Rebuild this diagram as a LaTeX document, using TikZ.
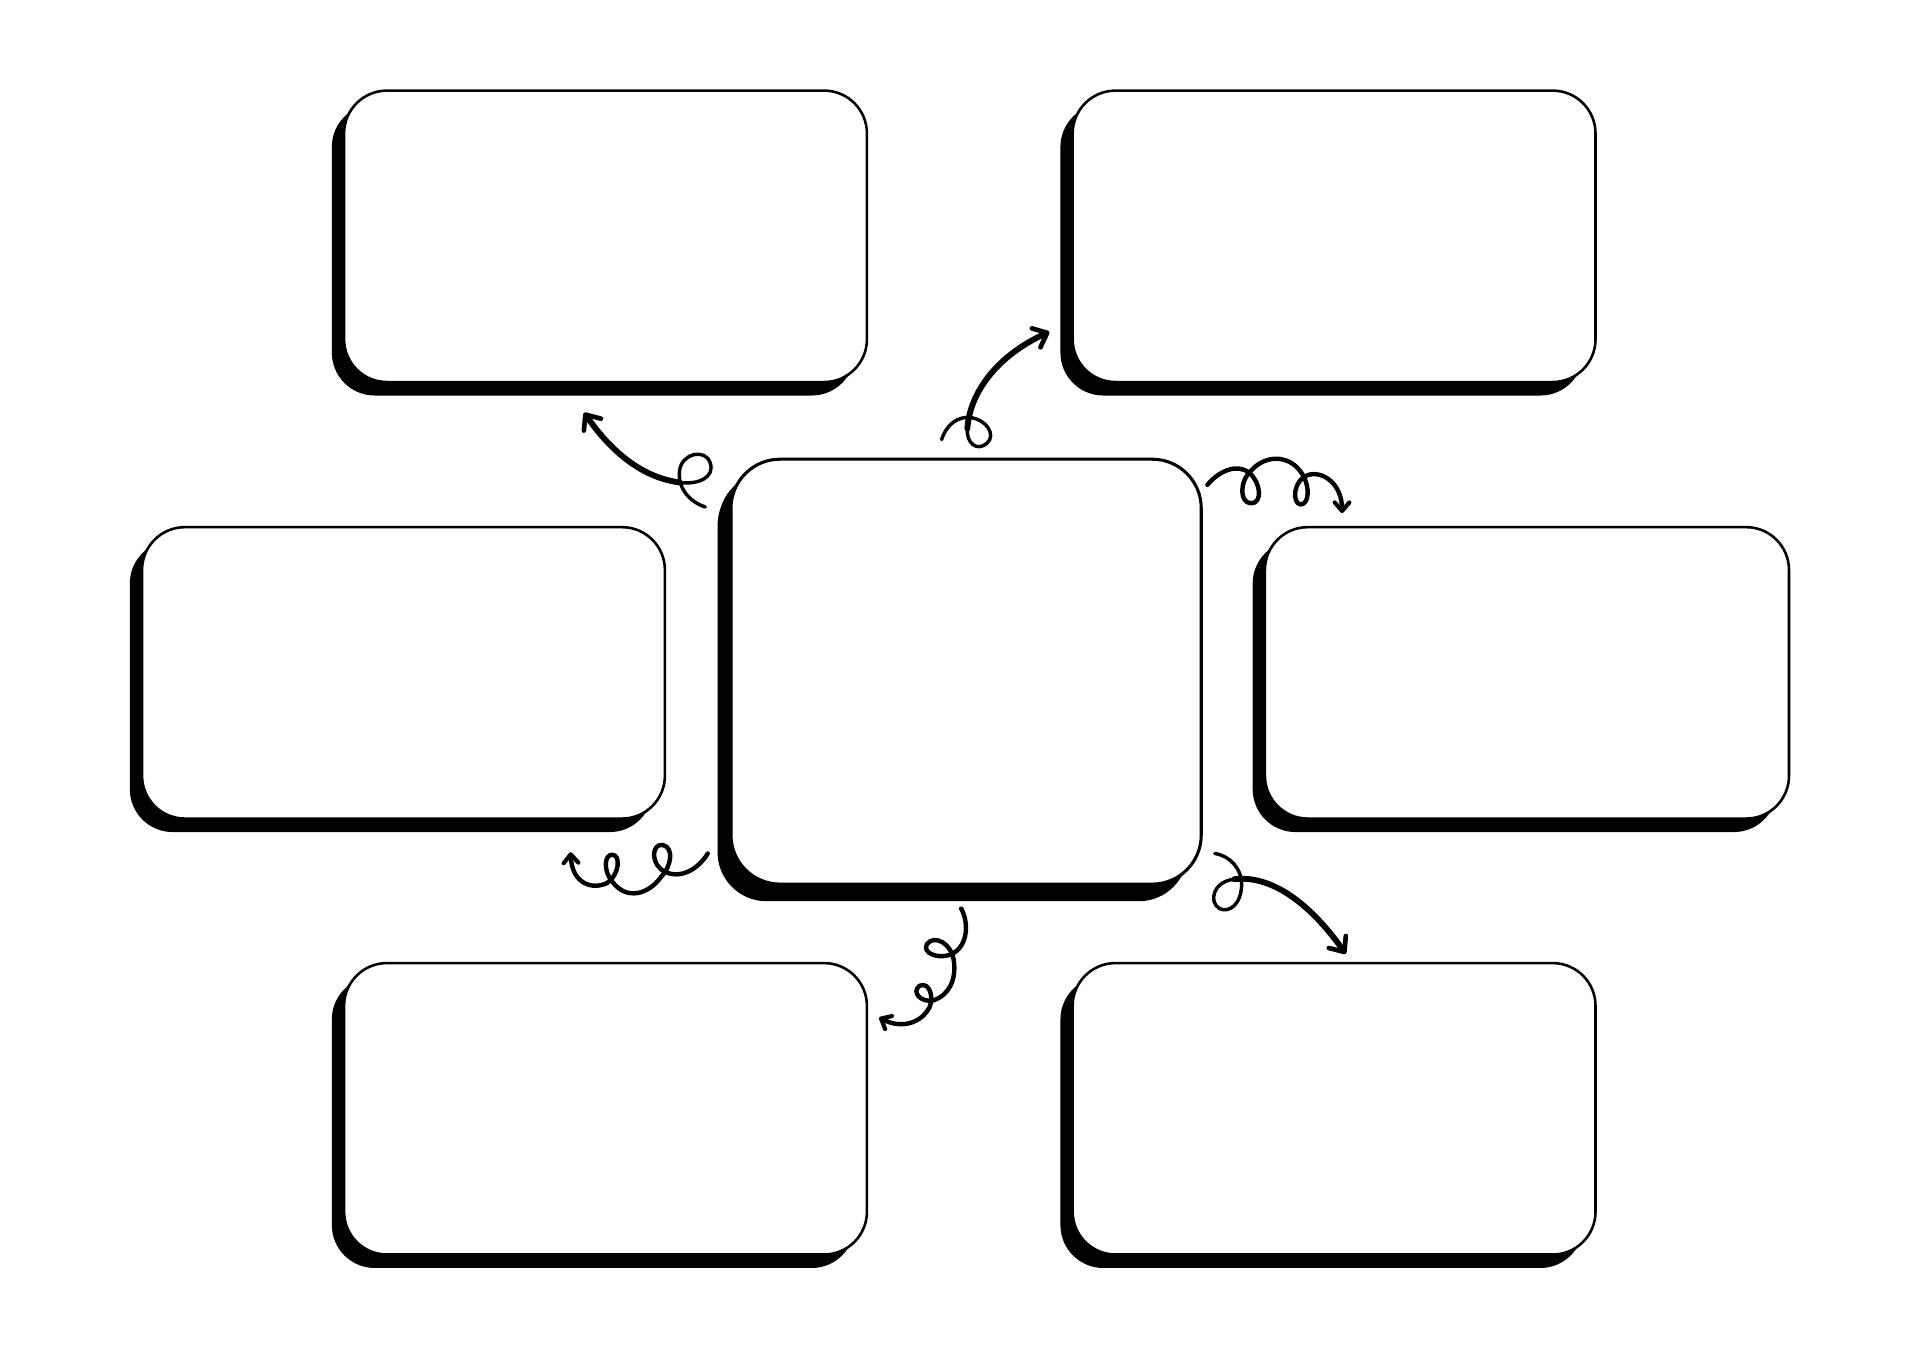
\documentclass[tikz,border=0pt]{standalone}
\usetikzlibrary{shadows,arrows.meta}
\begin{document}
\begin{tikzpicture}[x=1pt,y=-1pt,
  box/.style={draw=black,fill=white,line width=2.1pt,rounded corners=35pt,
    inner sep=0pt,outer sep=0pt,minimum width=427pt,minimum height=238pt,
    general shadow={fill=black,shadow xshift=-10pt,shadow yshift=-11pt}},
  hubbox/.style={box,rounded corners=40pt,line width=2.5pt,minimum width=384pt,minimum height=347pt,
    general shadow={fill=black,shadow xshift=-11pt,shadow yshift=-14pt}},
  loopline/.style={line width=2.8pt,line cap=round,line join=round},
  mainline/.style={line width=4.8pt,line cap=round,line join=round},
  curlline/.style={line width=3.6pt,line cap=round,line join=round},
  bigtip/.style={-{Straight Barb[length=10pt,width=17pt,line width=3.8pt,round]}},
  smalltip/.style={-{Straight Barb[length=7pt,width=12pt,line width=3.4pt,round]}}]
\useasboundingbox (0,0) rectangle (1568,1109);
\fill[white] (0,0) rectangle (1568,1109);

% boxes
\node[box] (tl) at (494.5,193) {};
\node[box] (tr) at (1089.5,193) {};
\node[box] (ml) at (329.5,549.5) {};
\node[box,minimum width=428pt] (mr) at (1247,549.5) {};
\node[box] (bl) at (494.5,905.5) {};
\node[box] (br) at (1089.5,905.5) {};
\node[hubbox] (hub) at (789,548.5) {};

% connector ends
\coordinate (a1s) at (576,414);
\coordinate (a1j) at (555,394);
\coordinate (a1e) at (477,337);
\coordinate (a2s) at (769,359);
\coordinate (a2j) at (790,350);
\coordinate (a2e) at (857,271);
\coordinate (a3s) at (986,396);
\coordinate (a3e) at (1096,419);
\coordinate (a4s) at (578,697);
\coordinate (a4e) at (466,696);
\coordinate (a5s) at (785,742);
\coordinate (a5e) at (718,831);
\coordinate (a6s) at (992,697);
\coordinate (a6j) at (1008,718);
\coordinate (a6e) at (1099,779);

% arrow 1: hub -> top left
\draw[loopline] (a1s) .. controls (563,410) and (553,398) .. (555,384)
  .. controls (557,370) and (576,366) .. (580,378)
  .. controls (584,390) and (570,396) .. (a1j);
\draw[mainline,bigtip] (a1j) .. controls (525,390) and (500,370) .. (a1e);

% arrow 2: hub -> top right
\draw[loopline] (a2s) .. controls (773,346) and (783,340) .. (792,341)
  .. controls (805,342) and (814,355) .. (806,362)
  .. controls (798,369) and (789,362) .. (a2j);
\draw[mainline,bigtip] (a2j) .. controls (792,320) and (815,290) .. (a2e);

% arrow 3: hub -> middle right
\draw[curlline,smalltip] (a3s) .. controls (995,385) and (1010,378) .. (1020,386)
  .. controls (1030,394) and (1031,411) .. (1022,411)
  .. controls (1012,411) and (1012,393) .. (1022,384)
  .. controls (1035,370) and (1055,372) .. (1064,388)
  .. controls (1070,398) and (1069,412) .. (1062,412)
  .. controls (1055,411) and (1056,392) .. (1068,388)
  .. controls (1080,384) and (1096,395) .. (a3e);

% arrow 4: hub -> middle left
\draw[curlline,smalltip] (a4s) .. controls (570,710) and (556,718) .. (543,712)
  .. controls (531,706) and (532,689) .. (541,690)
  .. controls (551,692) and (548,708) .. (540,716)
  .. controls (530,730) and (512,736) .. (500,720)
  .. controls (493,712) and (493,698) .. (500,698)
  .. controls (507,698) and (506,714) .. (496,721)
  .. controls (484,727) and (467,722) .. (a4e);

% arrow 5: hub -> bottom left
\draw[curlline,smalltip] (a5s) .. controls (792,755) and (790,775) .. (775,780)
  .. controls (765,783) and (753,778) .. (757,771)
  .. controls (763,763) and (777,770) .. (779,785)
  .. controls (781,800) and (775,813) .. (762,817)
  .. controls (752,819) and (744,810) .. (751,805)
  .. controls (760,801) and (764,818) .. (757,826)
  .. controls (750,836) and (735,840) .. (a5e);

% arrow 6: hub -> bottom right
\draw[loopline] (a6s) .. controls (1005,699) and (1014,710) .. (1014,722)
  .. controls (1014,738) and (1004,746) .. (996,742)
  .. controls (987,737) and (990,720) .. (a6j);
\draw[mainline,bigtip] (a6j) .. controls (1043,714) and (1075,745) .. (a6e);
\end{tikzpicture}
\end{document}
